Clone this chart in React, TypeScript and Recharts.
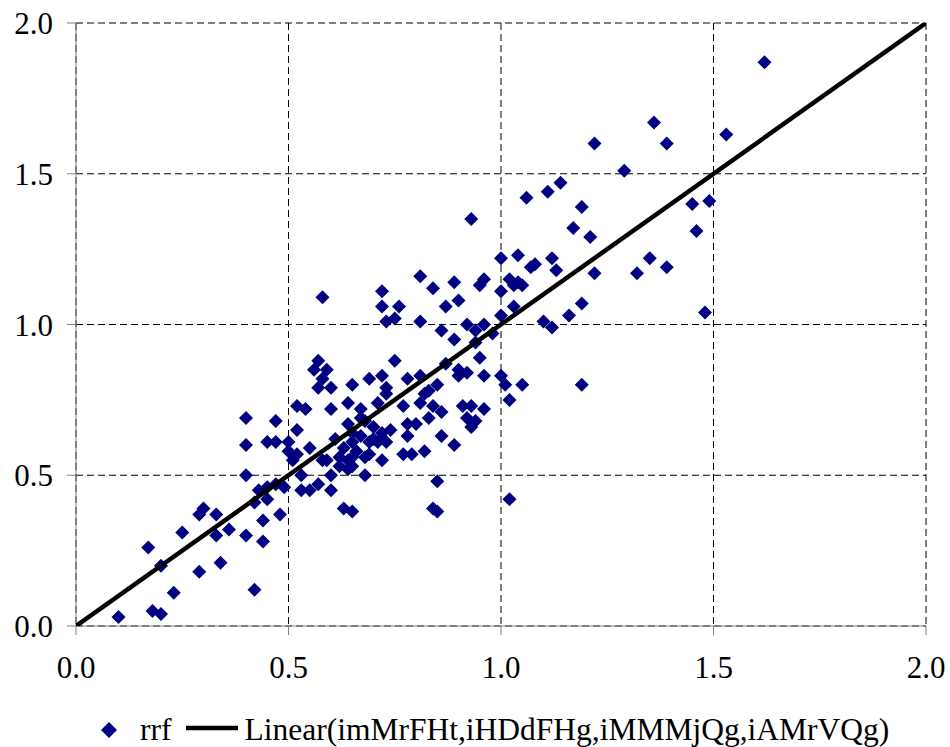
import React from 'react';
import { ScatterChart, Scatter, XAxis, YAxis, CartesianGrid, Legend } from 'recharts';

const rrfX = [
  0.40, 0.47, 0.52, 0.52, 0.40, 0.45, 0.47, 0.50, 0.50, 0.52,
  0.40, 0.43, 0.45, 0.47, 0.49, 0.53, 0.53, 0.42, 0.45, 0.48,
  0.44, 0.30, 0.29, 0.33, 0.25, 0.33, 0.36, 0.40, 0.44, 0.17,
  0.20, 0.29, 0.34, 0.42, 0.23, 0.18, 0.20, 0.10,
  0.58, 0.72, 0.84, 0.89, 0.95, 0.72, 0.76, 0.87, 0.90, 0.73, 0.75, 0.81,
  0.86, 0.89, 0.92, 0.94, 0.96, 0.57, 0.56, 0.59, 0.58, 0.57, 0.60, 0.75,
  0.65, 0.69, 0.72, 0.73, 0.73, 0.78, 0.81, 0.85, 0.87, 0.90, 0.92, 0.90,
  0.95, 0.96, 0.82, 0.81, 0.54, 0.60, 0.64, 0.67, 0.71, 0.77, 0.84, 0.86,
  0.83, 0.91, 0.93, 0.96, 0.92, 0.94, 0.64, 0.68, 0.67, 0.70, 0.72, 0.74,
  0.78, 0.80, 0.78, 0.86, 0.89, 0.55, 0.51, 0.58, 0.61, 0.63, 0.65, 0.66,
  0.67, 0.69, 0.73, 0.62, 0.64, 0.68, 0.72, 0.77, 0.79, 0.82, 0.62, 0.64,
  0.68, 0.60, 0.55, 0.57, 0.60, 0.85, 0.63, 0.65, 0.84, 0.85,
  1.06, 1.11, 1.14, 1.19, 1.17, 1.21, 0.93, 1.00, 1.04, 1.08, 1.07, 1.12, 1.13, 1.22, 1.32, 1.35, 1.39,
  0.96, 1.02, 1.03, 1.04, 1.05, 1.00, 1.03, 1.00, 1.19, 1.16, 1.10, 1.12, 0.98, 0.94, 1.00, 1.01, 1.05, 1.19, 1.02, 0.93, 1.02,
  1.62, 1.36, 1.39, 1.53, 1.45, 1.49, 1.46, 1.48, 1.22, 1.29, 0.81,
  0.65, 0.71, 0.65, 0.69, 0.65, 0.59, 0.83, 0.70,
];

const rrfY = [
  0.69, 0.68, 0.73, 0.65, 0.60, 0.61, 0.61, 0.61, 0.58, 0.57,
  0.50, 0.45, 0.46, 0.47, 0.46, 0.50, 0.45, 0.41, 0.42, 0.37,
  0.35, 0.39, 0.37, 0.37, 0.31, 0.30, 0.32, 0.30, 0.28, 0.26,
  0.20, 0.18, 0.21, 0.12, 0.11, 0.05, 0.04, 0.03,
  1.09, 1.11, 1.12, 1.14, 1.13, 1.06, 1.06, 1.06, 1.08, 1.01, 1.02, 1.01,
  0.98, 0.95, 1.00, 0.98, 1.00, 0.88, 0.85, 0.85, 0.82, 0.79, 0.79, 0.88,
  0.80, 0.82, 0.83, 0.79, 0.77, 0.82, 0.83, 0.80, 0.87, 0.85, 0.84, 0.83,
  0.89, 0.83, 0.77, 0.74, 0.72, 0.72, 0.74, 0.72, 0.74, 0.73, 0.73, 0.71,
  0.69, 0.73, 0.73, 0.72, 0.69, 0.68, 0.67, 0.68, 0.69, 0.66, 0.64, 0.65,
  0.67, 0.67, 0.63, 0.63, 0.60, 0.59, 0.55, 0.55, 0.62, 0.59, 0.61, 0.58,
  0.63, 0.61, 0.61, 0.56, 0.55, 0.56, 0.55, 0.57, 0.57, 0.58, 0.53, 0.52,
  0.50, 0.50, 0.45, 0.47, 0.45, 0.48, 0.39, 0.38, 0.39, 0.38,
  1.42, 1.44, 1.47, 1.39, 1.32, 1.29, 1.35, 1.22, 1.23, 1.20, 1.19, 1.22, 1.18, 1.17, 1.17, 1.22, 1.19,
  1.15, 1.15, 1.13, 1.14, 1.13, 1.11, 1.06, 1.03, 1.07, 1.03, 1.01, 0.99, 0.97, 0.94, 0.83, 0.80, 0.80, 0.80, 0.75, 0.66, 0.42,
  1.87, 1.67, 1.60, 1.63, 1.40, 1.41, 1.31, 1.04, 1.60, 1.51, 1.16,
  0.64, 0.61, 0.56, 0.57, 0.53, 0.55, 0.78, 0.62,
];

const trendX = [0, 2];
const trendY = [0, 2];
const axisTicks = [0, 0.5, 1, 1.5, 2];
const seriesNames = ['rrf', 'Linear(imMrFHt,iHDdFHg,iMMMjQg,iAMrVQg)'];

const rrfData = rrfX.map((x, i) => ({ x, y: rrfY[i] }));
const trendData = trendX.map((x, i) => ({ x, y: trendY[i] }));

const FONT = '"Liberation Serif", "Times New Roman", serif';
const NAVY = '#000080';
const AXIS_GRAY = '#808080';

const Diamond = (props: any) => {
  const { cx, cy } = props;
  if (cx == null || cy == null) return <g />;
  const r = 7;
  return (
    <polygon
      points={`${cx},${cy - r} ${cx + r},${cy} ${cx},${cy + r} ${cx - r},${cy}`}
      fill={NAVY}
    />
  );
};

const NoShape = () => <g />;

const renderLegend = () => (
  <div
    style={{
      display: 'flex',
      alignItems: 'center',
      paddingLeft: 101,
      fontFamily: FONT,
      fontSize: 31.5,
      color: '#000',
      lineHeight: '36px',
      whiteSpace: 'nowrap',
    }}
  >
    <svg width={16} height={16} style={{ display: 'block' }}>
      <polygon points="8,0 16,8 8,16 0,8" fill={NAVY} />
    </svg>
    <span style={{ marginLeft: 23 }}>{seriesNames[0]}</span>
    <svg width={52} height={10} style={{ display: 'block', marginLeft: 15, marginRight: 6, position: 'relative', top: -2 }}>
      <line x1={0} y1={5} x2={52} y2={5} stroke="#000" strokeWidth={4.5} />
    </svg>
    <span>{seriesNames[1]}</span>
  </div>
);

const tickStyle = { fontFamily: FONT, fontSize: 31, fill: '#000' };

export default function App() {
  return (
    <div style={{ position: 'absolute', left: 0, top: 0, width: 950, height: 747, background: '#fff' }}>
      <ScatterChart width={950} height={747} margin={{ top: 23, right: 24, bottom: 0, left: 0 }}>
        <CartesianGrid stroke="#000" strokeDasharray="7 4" />
        <XAxis
          type="number"
          dataKey="x"
          domain={[0, 2]}
          ticks={axisTicks}
          tickFormatter={(v: number) => v.toFixed(1)}
          height={121}
          tickSize={9}
          tickMargin={21}
          stroke={AXIS_GRAY}
          tick={tickStyle}
          allowDataOverflow
        />
        <YAxis
          type="number"
          dataKey="y"
          domain={[0, 2]}
          ticks={axisTicks}
          tickFormatter={(v: number) => v.toFixed(1)}
          width={76}
          tickSize={9}
          tickMargin={14}
          stroke={AXIS_GRAY}
          tick={tickStyle}
          allowDataOverflow
        />
        <Scatter name={seriesNames[0]} data={rrfData} shape={Diamond} isAnimationActive={false} />
        <Scatter
          name={seriesNames[1]}
          data={trendData}
          line={{ stroke: '#000', strokeWidth: 4.5 }}
          shape={NoShape}
          isAnimationActive={false}
        />
        <Legend
          content={renderLegend}
          wrapperStyle={{ position: 'absolute', left: 0, top: 712, width: 950, height: 0, overflow: 'visible' }}
        />
      </ScatterChart>
    </div>
  );
}
